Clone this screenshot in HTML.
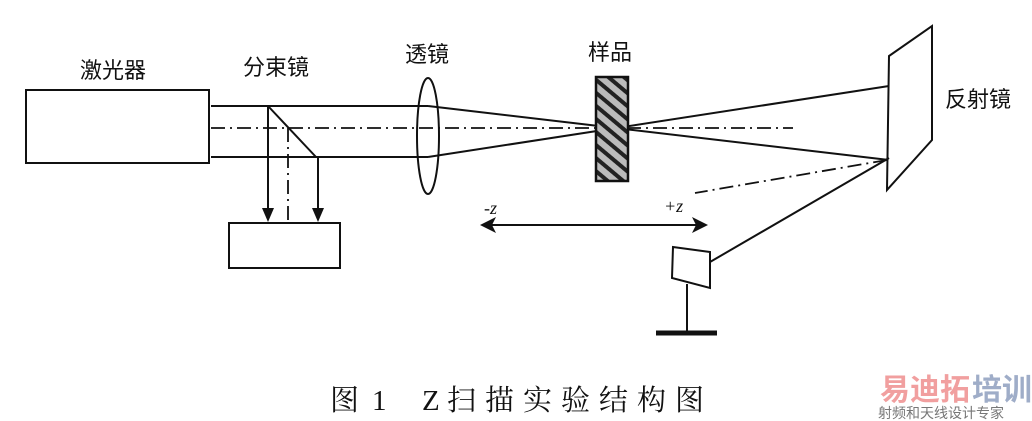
<!DOCTYPE html>
<html><head><meta charset="utf-8"><style>
html,body{margin:0;padding:0;background:#fff;}
svg{display:block;}
text{font-family:"Liberation Sans","Noto Sans CJK SC",sans-serif;fill:#111;}
</style></head><body>
<svg width="1032" height="421" viewBox="0 0 1032 421" xmlns="http://www.w3.org/2000/svg">
<defs>
<pattern id="hatch" width="10" height="10" patternUnits="userSpaceOnUse" patternTransform="rotate(-50)">
<rect width="10" height="10" fill="#bbb"/>
<rect width="4" height="10" fill="#222"/>
</pattern>
</defs>
<g stroke="#111" stroke-width="2" fill="none">
<rect x="26" y="90" width="183" height="73" fill="#fff"/>
<line x1="211" y1="106" x2="428" y2="106"/>
<line x1="211" y1="157" x2="428" y2="157"/>
<line x1="268" y1="106" x2="316" y2="157"/>
<line x1="268" y1="106" x2="268" y2="210"/>
<line x1="318" y1="157" x2="318" y2="210"/>
<rect x="229" y="223" width="111" height="45"/>
<ellipse cx="428" cy="136" rx="11" ry="58"/>
<line x1="428" y1="106" x2="889" y2="160"/>
<line x1="428" y1="157" x2="889" y2="86"/>
<polygon points="889,56 932,26 932,140 887,190" fill="#fff"/>
<line x1="889" y1="158" x2="710" y2="262"/>
<polygon points="673,247 710,252 710,288 672,278" fill="#fff"/>
<line x1="687" y1="284" x2="687" y2="333"/>
<line x1="485" y1="225" x2="697" y2="225"/>
</g>
<line x1="656" y1="333" x2="717" y2="333" stroke="#111" stroke-width="5"/>
<g stroke="#111" stroke-width="1.8" stroke-dasharray="14,5,2,5" fill="none">
<line x1="211" y1="128" x2="793" y2="128"/>
<line x1="288" y1="128" x2="288" y2="220"/>
<line x1="887" y1="160" x2="695" y2="193"/>
</g>
<rect x="596" y="77" width="32" height="104" fill="url(#hatch)" stroke="#111" stroke-width="2.5"/>
<g fill="#111">
<polygon points="262,208 274,208 268,222"/>
<polygon points="312,208 324,208 318,222"/>
<polygon points="480,225 496,217 492,225 496,233"/>
<polygon points="708,225 692,217 696,225 692,233"/>
</g>
<text x="80" y="78" font-size="22">激光器</text>
<text x="243" y="75" font-size="22">分束镜</text>
<text x="405" y="62" font-size="22">透镜</text>
<text x="588" y="60" font-size="22">样品</text>
<text x="945" y="107" font-size="22">反射镜</text>
<text x="484" y="214" font-size="18" font-style="italic" style="font-family:'Liberation Serif',serif">-z</text>
<text x="664" y="212" font-size="18" font-style="italic" style="font-family:'Liberation Serif',serif">+z</text>
<g style="font-family:'Liberation Serif','Noto Serif CJK SC',serif" font-size="29">
<text x="330" y="410" style="font-family:'Liberation Serif','Noto Serif CJK SC',serif">图</text>
<text x="372" y="410" style="font-family:'Liberation Serif','Noto Serif CJK SC',serif">1</text>
<text x="422" y="410" style="font-family:'Liberation Serif','Noto Serif CJK SC',serif">Z</text>
<text x="447" y="410" letter-spacing="9" style="font-family:'Liberation Serif','Noto Serif CJK SC',serif">扫描实验结构图</text>
</g>
<text x="880" y="400" font-size="30" font-weight="bold" style="fill:#e88;opacity:.8">易迪拓</text>
<text x="972" y="400" font-size="30" font-weight="bold" style="fill:#89b;opacity:.8">培训</text>
<text x="878" y="418" font-size="14" style="fill:#777">射频和天线设计专家</text>
</svg>
</body></html>
